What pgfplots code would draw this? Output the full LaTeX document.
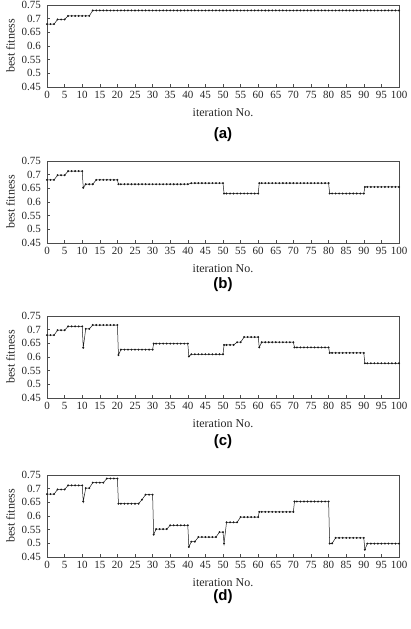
\documentclass[border=0pt]{standalone}
\usepackage{fontspec}
\setmainfont{Liberation Serif}
\newfontfamily\labfont{Liberation Sans}
\usepackage{pgfplots}
\pgfplotsset{compat=1.18}
\pgfplotsset{myax/.style={
  scale only axis, width=352pt, height=82pt, anchor=south west,
  xmin=0, xmax=100, ymin=0.45, ymax=0.75,
  xtick={0,5,...,100},
  ytick={0.45,0.5,0.55,0.6,0.65,0.7,0.75},
  yticklabels={0.45,0.5,0.55,0.6,0.65,0.7,0.75},
  tick align=inside, xtick pos=bottom, ytick pos=left,
  major tick length=3pt,
  axis line style={draw=black!70, line width=0.6pt},
  every tick/.style={black!70, line width=0.5pt},
  ticklabel style={font=\fontsize{11}{13}\selectfont, text=black!85},
  yticklabel style={xshift=-2.5pt},
  xticklabel style={yshift=-0.5pt},
  /pgf/number format/assume math mode=true,
  xlabel={iteration No.}, ylabel={best fitness},
  label style={font=\fontsize{12}{14}\selectfont, text=black!85},
  xlabel style={yshift=-3.5pt},
  ylabel style={yshift=0pt},
},
fitline/.style={black!90, line width=0.5pt, mark=*, mark size=0.7pt, mark options={solid, fill=black!90}}
}
\begin{document}
\begin{tikzpicture}[x=1pt,y=1pt]
\useasboundingbox (0,0) rectangle (410,629);
% (a)
\begin{axis}[myax, at={(47pt,542pt)}]
\addplot[fitline] coordinates {
(0,0.68)(1,0.68)(2,0.68)(3,0.697)(4,0.697)(5,0.697)(6,0.71)(7,0.71)(8,0.71)(9,0.71)(10,0.71)(11,0.71)(12,0.71)
(13,0.73)(14,0.73)(15,0.73)(16,0.73)(17,0.73)(18,0.73)(19,0.73)(20,0.73)
(21,0.73)(22,0.73)(23,0.73)(24,0.73)(25,0.73)(26,0.73)(27,0.73)(28,0.73)(29,0.73)(30,0.73)
(31,0.73)(32,0.73)(33,0.73)(34,0.73)(35,0.73)(36,0.73)(37,0.73)(38,0.73)(39,0.73)(40,0.73)
(41,0.73)(42,0.73)(43,0.73)(44,0.73)(45,0.73)(46,0.73)(47,0.73)(48,0.73)(49,0.73)(50,0.73)
(51,0.73)(52,0.73)(53,0.73)(54,0.73)(55,0.73)(56,0.73)(57,0.73)(58,0.73)(59,0.73)(60,0.73)
(61,0.73)(62,0.73)(63,0.73)(64,0.73)(65,0.73)(66,0.73)(67,0.73)(68,0.73)(69,0.73)(70,0.73)
(71,0.73)(72,0.73)(73,0.73)(74,0.73)(75,0.73)(76,0.73)(77,0.73)(78,0.73)(79,0.73)(80,0.73)
(81,0.73)(82,0.73)(83,0.73)(84,0.73)(85,0.73)(86,0.73)(87,0.73)(88,0.73)(89,0.73)(90,0.73)
(91,0.73)(92,0.73)(93,0.73)(94,0.73)(95,0.73)(96,0.73)(97,0.73)(98,0.73)(99,0.73)(100,0.73)
};
\end{axis}
% (b)
\begin{axis}[myax, at={(47pt,386pt)}]
\addplot[fitline] coordinates {
(0,0.681)(1,0.681)(2,0.681)(3,0.698)(4,0.698)(5,0.698)(6,0.713)(7,0.713)(8,0.713)(9,0.713)(10,0.713)
(10.3,0.652)(11,0.665)(12,0.665)(13,0.665)(14,0.681)(15,0.681)(16,0.681)(17,0.681)(18,0.681)(19,0.681)(20,0.681)
(20.3,0.665)(21,0.665)(22,0.665)(23,0.665)(24,0.665)(25,0.665)(26,0.665)(27,0.665)(28,0.665)(29,0.665)(30,0.665)
(31,0.665)(32,0.665)(33,0.665)(34,0.665)(35,0.665)(36,0.665)(37,0.665)(38,0.665)(39,0.665)(40,0.665)
(41,0.669)(42,0.669)(43,0.669)(44,0.669)(45,0.669)(46,0.669)(47,0.669)(48,0.669)(49,0.669)(50,0.669)
(50.3,0.631)(51,0.631)(52,0.631)(53,0.631)(54,0.631)(55,0.631)(56,0.631)(57,0.631)(58,0.631)(59,0.631)(60,0.631)
(60.3,0.669)(61,0.669)(62,0.669)(63,0.669)(64,0.669)(65,0.669)(66,0.669)(67,0.669)(68,0.669)(69,0.669)(70,0.669)
(71,0.669)(72,0.669)(73,0.669)(74,0.669)(75,0.669)(76,0.669)(77,0.669)(78,0.669)(79,0.669)(80,0.669)
(80.3,0.631)(81,0.631)(82,0.631)(83,0.631)(84,0.631)(85,0.631)(86,0.631)(87,0.631)(88,0.631)(89,0.631)(90,0.631)
(90.3,0.655)(91,0.655)(92,0.655)(93,0.655)(94,0.655)(95,0.655)(96,0.655)(97,0.655)(98,0.655)(99,0.655)(100,0.655)
};
\end{axis}
% (c)
\begin{axis}[myax, at={(47pt,231pt)}]
\addplot[fitline] coordinates {
(0,0.68)(1,0.68)(2,0.68)(3,0.698)(4,0.698)(5,0.698)(6,0.712)(7,0.712)(8,0.712)(9,0.712)(10,0.712)
(10.3,0.634)(11,0.703)(12,0.703)(13,0.717)(14,0.717)(15,0.717)(16,0.717)(17,0.717)(18,0.717)(19,0.717)(20,0.717)
(20.3,0.607)(21,0.627)(22,0.627)(23,0.627)(24,0.627)(25,0.627)(26,0.627)(27,0.627)(28,0.627)(29,0.627)(30,0.627)
(30.3,0.649)(31,0.649)(32,0.649)(33,0.649)(34,0.649)(35,0.649)(36,0.649)(37,0.649)(38,0.649)(39,0.649)(40,0.649)
(40.3,0.602)(41,0.61)(42,0.61)(43,0.61)(44,0.61)(45,0.61)(46,0.61)(47,0.61)(48,0.61)(49,0.61)(50,0.61)
(50.3,0.644)(51,0.644)(52,0.644)(53,0.644)(54,0.654)(55,0.654)(56,0.673)(57,0.673)(58,0.673)(59,0.673)(60,0.673)
(60.3,0.635)(61,0.654)(62,0.654)(63,0.654)(64,0.654)(65,0.654)(66,0.654)(67,0.654)(68,0.654)(69,0.654)(70,0.654)
(70.3,0.635)(71,0.635)(72,0.635)(73,0.635)(74,0.635)(75,0.635)(76,0.635)(77,0.635)(78,0.635)(79,0.635)(80,0.635)
(80.3,0.615)(81,0.615)(82,0.615)(83,0.615)(84,0.615)(85,0.615)(86,0.615)(87,0.615)(88,0.615)(89,0.615)(90,0.615)
(90.3,0.577)(91,0.577)(92,0.577)(93,0.577)(94,0.577)(95,0.577)(96,0.577)(97,0.577)(98,0.577)(99,0.577)(100,0.577)
};
\end{axis}
% (d)
\begin{axis}[myax, at={(47pt,72pt)}]
\addplot[fitline] coordinates {
(0,0.68)(1,0.68)(2,0.68)(3,0.697)(4,0.697)(5,0.697)(6,0.712)(7,0.712)(8,0.712)(9,0.712)(10,0.712)
(10.3,0.653)(11,0.702)(12,0.702)(13,0.722)(14,0.722)(15,0.722)(16,0.722)(17,0.737)(18,0.737)(19,0.737)(20,0.737)
(20.3,0.645)(21,0.645)(22,0.645)(23,0.645)(24,0.645)(25,0.645)(26,0.645)(27,0.66)(28,0.678)(29,0.678)(30,0.678)
(30.3,0.532)(31,0.552)(32,0.552)(33,0.552)(34,0.552)(35,0.566)(36,0.566)(37,0.566)(38,0.566)(39,0.566)(40,0.566)
(40.3,0.487)(41,0.506)(42,0.506)(43,0.523)(44,0.523)(45,0.523)(46,0.523)(47,0.523)(48,0.523)(49,0.541)(50,0.541)
(50.3,0.499)(51,0.577)(52,0.577)(53,0.577)(54,0.577)(55,0.596)(56,0.596)(57,0.596)(58,0.596)(59,0.596)(60,0.596)
(60.3,0.615)(61,0.615)(62,0.615)(63,0.615)(64,0.615)(65,0.615)(66,0.615)(67,0.615)(68,0.615)(69,0.615)(70,0.615)
(70.3,0.653)(71,0.653)(72,0.653)(73,0.653)(74,0.653)(75,0.653)(76,0.653)(77,0.653)(78,0.653)(79,0.653)(80,0.653)
(80.3,0.499)(81,0.5)(82,0.52)(83,0.52)(84,0.52)(85,0.52)(86,0.52)(87,0.52)(88,0.52)(89,0.52)(90,0.52)
(90.3,0.477)(91,0.499)(92,0.499)(93,0.499)(94,0.499)(95,0.499)(96,0.499)(97,0.499)(98,0.499)(99,0.499)(100,0.499)
};
\end{axis}
\node[font=\labfont\bfseries\fontsize{15}{17}\selectfont] at (223,494) {(a)};
\node[font=\labfont\bfseries\fontsize{15}{17}\selectfont] at (223,344) {(b)};
\node[font=\labfont\bfseries\fontsize{15}{17}\selectfont] at (223,187) {(c)};
\node[font=\labfont\bfseries\fontsize{15}{17}\selectfont] at (223,32) {(d)};
\end{tikzpicture}
\end{document}
